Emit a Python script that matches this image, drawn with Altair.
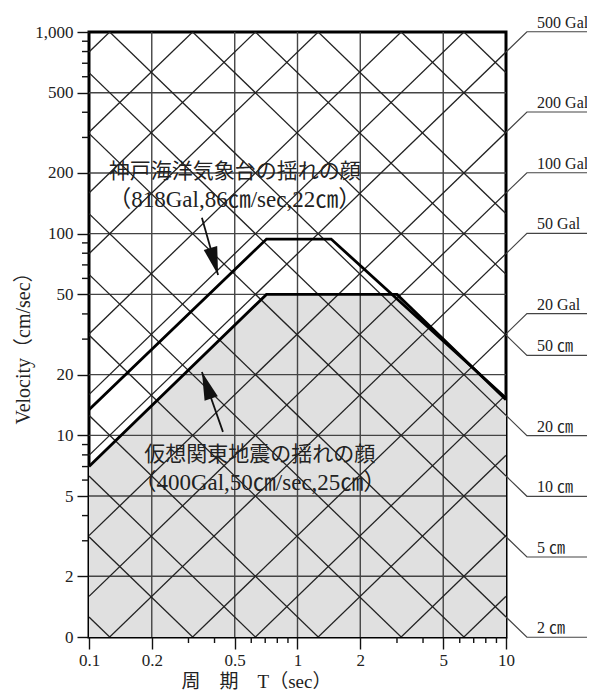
import math
import altair as alt
import pandas as pd

TWO_PI = 2 * math.pi

# ---- axis values ----
x_major = [0.1, 0.2, 0.5, 1, 2, 5, 10]
x_minor = [0.3, 0.4, 0.6, 0.7, 0.8, 0.9, 3, 4, 6, 7, 8, 9]
y_major = [1, 2, 5, 10, 20, 50, 100, 200, 500, 1000]
y_minor = [3, 4, 6, 7, 8, 9, 30, 40, 60, 70, 80, 90, 300, 400, 600, 700, 800, 900]
x_grid = [0.2, 0.5, 1, 2, 5]
y_grid = [2, 5, 10, 20, 50, 100, 200, 500]

# ---- tripartite diagonal grid (Gal / cm) ----
accel_grid = [1, 2, 5, 10, 20, 50, 100, 200, 500, 1000, 2000, 5000, 10000, 20000, 50000]
disp_grid = [0.02, 0.05, 0.1, 0.2, 0.5, 1, 2, 5, 10, 20, 50, 100, 200, 500, 1000]

accel_labels = [500, 200, 100, 50, 20]
accel_label_text = ["500 Gal", "200 Gal", "100 Gal", "50 Gal", "20 Gal"]
disp_labels = [50, 20, 10, 5, 2]
disp_label_text = ["50 ㎝", "20 ㎝", "10 ㎝", "5 ㎝", "2 ㎝"]

# ---- spectra ----
kobe_T = [0.1, 0.71, 1.45, 10]
kobe_V = [13.4, 94, 94, 15.3]
kanto_T = [0.1, 0.71, 3.0, 10]
kanto_V = [7.0, 50, 50, 15.0]

# ---- annotations ----
note_T = [0.50, 0.50, 0.66, 0.66]
note_V = [202, 147, 8.0, 5.8]
note_size = [21, 23, 21, 23]
note_text = ["神戸海洋気象台の揺れの顔", "（818Gal,86㎝/sec,22㎝）",
             "仮想関東地震の揺れの顔", "（400Gal,50㎝/sec,25㎝）"]

arrow_tail_T = [0.348, 0.439]
arrow_tail_V = [120, 10.4]
arrow_tip_T = [0.416, 0.348]
arrow_tip_V = [62.4, 20.6]

W, H = 417, 605
PX_X = W / 2.0   # px per decade in T
PX_Y = H / 3.0   # px per decade in V

T_EDGE, T_ELBOW, T_END, T_TEXT = 10, 12.6, 27, 14.1

SERIF = "Liberation Serif, Noto Sans CJK JP"

xs = alt.Scale(type="log", domain=[0.1, 10], nice=False)
ys = alt.Scale(type="log", domain=[1, 1000], nice=False)

# ---- build tables ----
diag_rows = []
for a in accel_grid:
    for t in (0.1, 10):
        diag_rows.append({"key": f"A{a}", "T": t, "V": a * t / TWO_PI})
for d in disp_grid:
    for t in (0.1, 10):
        diag_rows.append({"key": f"D{d}", "T": t, "V": TWO_PI * d / t})
diag_df = pd.DataFrame(diag_rows)

lead_rows, lab_rows = [], []
for a, txt in zip(accel_labels, accel_label_text):
    ve = a * T_ELBOW / TWO_PI
    lead_rows += [{"key": txt, "T": T_EDGE, "V": a * T_EDGE / TWO_PI},
                  {"key": txt, "T": T_ELBOW, "V": ve},
                  {"key": txt, "T": T_END, "V": ve}]
    lab_rows.append({"T": T_TEXT, "V": ve, "text": txt})
for d, txt in zip(disp_labels, disp_label_text):
    ve = TWO_PI * d / T_ELBOW
    lead_rows += [{"key": txt, "T": T_EDGE, "V": TWO_PI * d / T_EDGE},
                  {"key": txt, "T": T_ELBOW, "V": ve},
                  {"key": txt, "T": T_END, "V": ve}]
    lab_rows.append({"T": T_TEXT, "V": ve, "text": txt})
lead_df = pd.DataFrame(lead_rows)
lab_df = pd.DataFrame(lab_rows)

spec_df = pd.DataFrame(
    [{"name": "kobe", "T": t, "V": v} for t, v in zip(kobe_T, kobe_V)]
    + [{"name": "kanto", "T": t, "V": v} for t, v in zip(kanto_T, kanto_V)]
)
area_df = pd.DataFrame({"T": kanto_T, "V": kanto_V})
note_df = pd.DataFrame({"T": note_T, "V": note_V, "text": note_text, "fs": note_size})

arr_rows = []
for t0, v0, t1, v1 in zip(arrow_tail_T, arrow_tail_V, arrow_tip_T, arrow_tip_V):
    dx = math.log10(t1 / t0) * PX_X
    dy = -math.log10(v1 / v0) * PX_Y
    ang = math.degrees(math.atan2(dx, -dy)) % 360
    arr_rows.append({"T0": t0, "V0": v0, "T1": t1, "V1": v1, "ang": ang})
arr_df = pd.DataFrame(arr_rows)

xgrid_df = pd.DataFrame({"T": x_grid})
ygrid_df = pd.DataFrame({"V": y_grid})
xminor_df = pd.DataFrame({"T": x_minor})
yminor_df = pd.DataFrame({"V": y_minor})

# ---- axes ----
x_axis = alt.Axis(
    values=x_major,
    labelExpr="datum.value < 1 ? format(datum.value, '.1f') : format(datum.value, 'd')",
    tickSize=12, tickColor="#111", tickWidth=1.4, domain=False, grid=False,
    labelFont=SERIF, labelFontSize=17, labelColor="#222", labelPadding=3,
    labelFlush=False, labelOverlap=False,
    title="周　期　T（sec）", titleFont=SERIF, titleFontSize=19, titleFontWeight="normal",
    titleColor="#222", titleX=167, titleY=44, titleAlign="center", titleBaseline="middle",
)
y_axis = alt.Axis(
    values=y_major,
    labelExpr="datum.value == 1 ? '0' : format(datum.value, ',')",
    tickSize=12, tickColor="#111", tickWidth=1.4, domain=False, grid=False,
    labelFont=SERIF, labelFontSize=17, labelColor="#222", labelPadding=4,
    labelFlush=False, labelOverlap=False,
    title="Velocity（cm/sec）", titleFont=SERIF, titleFontSize=20, titleFontWeight="normal",
    titleColor="#222", titleX=-66, titleY=311, titleAngle=270, titleAlign="center", titleBaseline="middle",
)

def X(field="T"):
    return alt.X(f"{field}:Q", scale=xs, axis=x_axis)

def Y(field="V"):
    return alt.Y(f"{field}:Q", scale=ys, axis=y_axis)

area = alt.Chart(area_df).mark_area(color="#e0e0e0").encode(
    x=X(), y=Y(), y2=alt.datum(1)
)
vgrid = alt.Chart(xgrid_df).mark_rule(color="#444", strokeWidth=1.4).encode(x=X())
hgrid = alt.Chart(ygrid_df).mark_rule(color="#444", strokeWidth=1.4).encode(y=Y())
xminor = alt.Chart(xminor_df).mark_rule(color="#111", strokeWidth=1.4, clip=False).encode(
    x=X(), y=alt.value(H), y2=alt.value(H + 6)
)
yminor = alt.Chart(yminor_df).mark_rule(color="#111", strokeWidth=1.4, clip=False).encode(
    y=Y(), x=alt.value(0), x2=alt.value(-7)
)
diag = alt.Chart(diag_df).mark_line(clip=True, color="#222", strokeWidth=1.3).encode(
    x=X(), y=Y(), detail="key:N"
)
leaders = alt.Chart(lead_df).mark_line(clip=False, color="#444", strokeWidth=1.2).encode(
    x=X(), y=Y(), detail="key:N"
)
labels = alt.Chart(lab_df).mark_text(
    align="left", baseline="alphabetic", dy=-4, font=SERIF, fontSize=16, color="#222"
).encode(x=X(), y=Y(), text="text:N")
spectra = alt.Chart(spec_df).mark_line(color="black", strokeWidth=2.8, clip=True).encode(
    x=X(), y=Y(), detail="name:N"
)
notes = alt.Chart(note_df).mark_text(
    align="center", baseline="middle", font=SERIF, color="#222"
).encode(x=X(), y=Y(), text="text:N", size=alt.Size("fs:Q", scale=None))
shafts = alt.Chart(arr_df).mark_rule(color="#111", strokeWidth=1.8).encode(
    x=X("T0"), y=Y("V0"), x2="T1:Q", y2="V1:Q"
)
heads = alt.Chart(arr_df).mark_point(
    shape="M0,0L-0.5,2L0.5,2Z", filled=True, size=784, color="#111", opacity=1
).encode(x=X("T1"), y=Y("V1"), angle=alt.Angle("ang:Q", scale=None))

chart = alt.layer(
    area, vgrid, hgrid, xminor, yminor, diag, leaders, labels, spectra, notes, shafts, heads
).properties(
    width=W, height=H,
    autosize=alt.AutoSizeParams(type="none"),
    padding={"left": 81, "top": 24, "right": 81, "bottom": 54},
    background="white",
).configure_view(
    stroke="black", strokeWidth=3
)

chart.save("out.html", embed_options={"renderer": "svg", "actions": False})
